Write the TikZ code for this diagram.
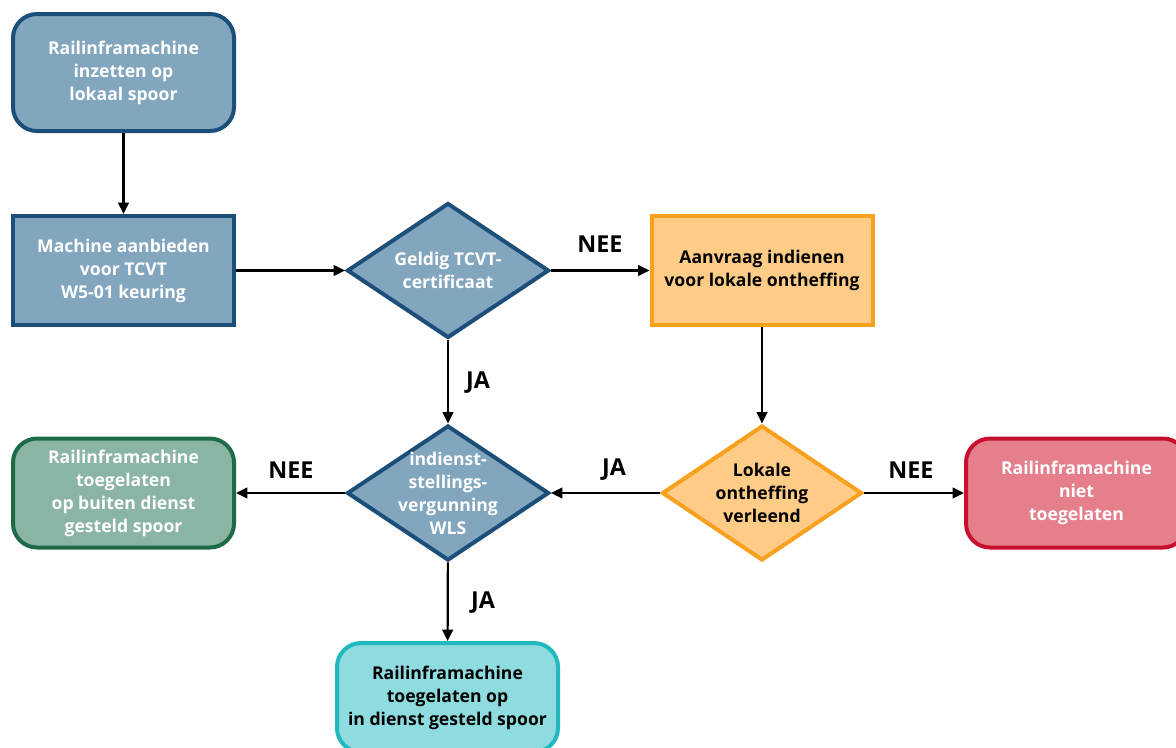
\documentclass[tikz,border=0pt]{standalone}
\usepackage{fontspec}
\setmainfont{Open Sans}
\usepackage{tikz}
\usetikzlibrary{shapes.geometric,arrows.meta}

\definecolor{blueFill}{RGB}{130,166,190}
\definecolor{blueLine}{RGB}{27,79,122}
\definecolor{orangeFill}{RGB}{255,204,136}
\definecolor{orangeLine}{RGB}{249,160,30}
\definecolor{greenFill}{RGB}{139,181,163}
\definecolor{greenLine}{RGB}{30,107,74}
\definecolor{redFill}{RGB}{229,127,139}
\definecolor{redLine}{RGB}{200,16,46}
\definecolor{cyanFill}{RGB}{142,220,223}
\definecolor{cyanLine}{RGB}{33,184,191}

\tikzset{
	boxtext/.style={font=\bfseries\fontsize{13.2}{17.2}\selectfont, align=center},
	flowbox/.style={boxtext, draw, line width=3pt, minimum width=165.75pt, minimum height=81.75pt, inner sep=0pt},
	roundbox/.style={flowbox, rounded corners=18pt},
	decision/.style={draw, shape=diamond, line width=3pt, minimum width=151.5pt, minimum height=101.25pt, inner sep=0pt},
	answer/.style={font=\bfseries\fontsize{17.5}{20}\selectfont},
	flow/.style={line width=1.6pt, -{Triangle[length=8.5pt,width=8pt]}}
}

\begin{document}
\begin{tikzpicture}[x=0.75pt,y=0.75pt,yscale=-1,xscale=1]
		\useasboundingbox (0,0) rectangle (1176,747);
		
		%Shape: Rounded Rect [start]
		\node [roundbox, fill=blueFill, draw=blueLine, text=white, minimum height=87.75pt] (start) at (123.5,72.5) {Railinframachine\\inzetten op\\lokaal spoor};
		%Shape: Rect [keuring]
		\node [flowbox, fill=blueFill, draw=blueLine, text=white] (keuring) at (123.5,270.5) {Machine aanbieden\\voor TCVT\\W5-01 keuring};
		%Shape: Diamond [tcvt]
		\node [decision, fill=blueFill, draw=blueLine, label={[boxtext, text=white]center:Geldig TCVT-\\certificaat}] (tcvt) at (448,270.5) {};
		%Shape: Rect [aanvraag]
		\node [flowbox, fill=orangeFill, draw=orangeLine] (aanvraag) at (762,270.5) {Aanvraag indienen\\voor lokale ontheffing};
		%Shape: Diamond [wls]
		\node [decision, fill=blueFill, draw=blueLine, label={[boxtext, text=white]center:indienst-\\stellings-\\vergunning\\WLS}] (wls) at (448,493) {};
		%Shape: Diamond [ontheffing]
		\node [decision, fill=orangeFill, draw=orangeLine, minimum width=150pt, label={[boxtext]center:Lokale\\ontheffing\\verleend}] (ontheffing) at (762,493) {};
		%Shape: Rounded Rect [buiten]
		\node [roundbox, fill=greenFill, draw=greenLine, text=white] (buiten) at (123.5,493) {Railinframachine\\toegelaten\\op buiten dienst\\gesteld spoor};
		%Shape: Rounded Rect [niet]
		\node [roundbox, fill=redFill, draw=redLine, text=white] (niet) at (1076.5,493) {Railinframachine\\niet\\toegelaten};
		%Shape: Rounded Rect [indienst]
		\node [roundbox, fill=cyanFill, draw=cyanLine] (indienst) at (447.5,697.5) {Railinframachine\\toegelaten op\\in dienst gesteld spoor};
		
		%Straight Lines
		\draw [flow] (start) -- (keuring);
		\draw [flow] (keuring) -- (tcvt);
		\draw [flow] (tcvt) -- (aanvraag);
		\draw [flow] (aanvraag) -- (ontheffing);
		\draw [flow] (tcvt) -- (wls);
		\draw [flow] (ontheffing) -- (wls);
		\draw [flow] (wls) -- (buiten);
		\draw [flow] (ontheffing) -- (niet);
		\draw [flow] (wls) -- (indienst);
		
		% Text Node
		\node [answer] (nee1) at (600,244) {NEE};
		% Text Node
		\node [answer] (ja1) at (478,383) {JA};
		% Text Node
		\node [answer] (nee2) at (291,470) {NEE};
		% Text Node
		\node [answer] (ja2) at (614,470) {JA};
		% Text Node
		\node [answer] (nee3) at (911,470) {NEE};
		% Text Node
		\node [answer] (ja3) at (483,603) {JA};
		
\end{tikzpicture}
\end{document}
